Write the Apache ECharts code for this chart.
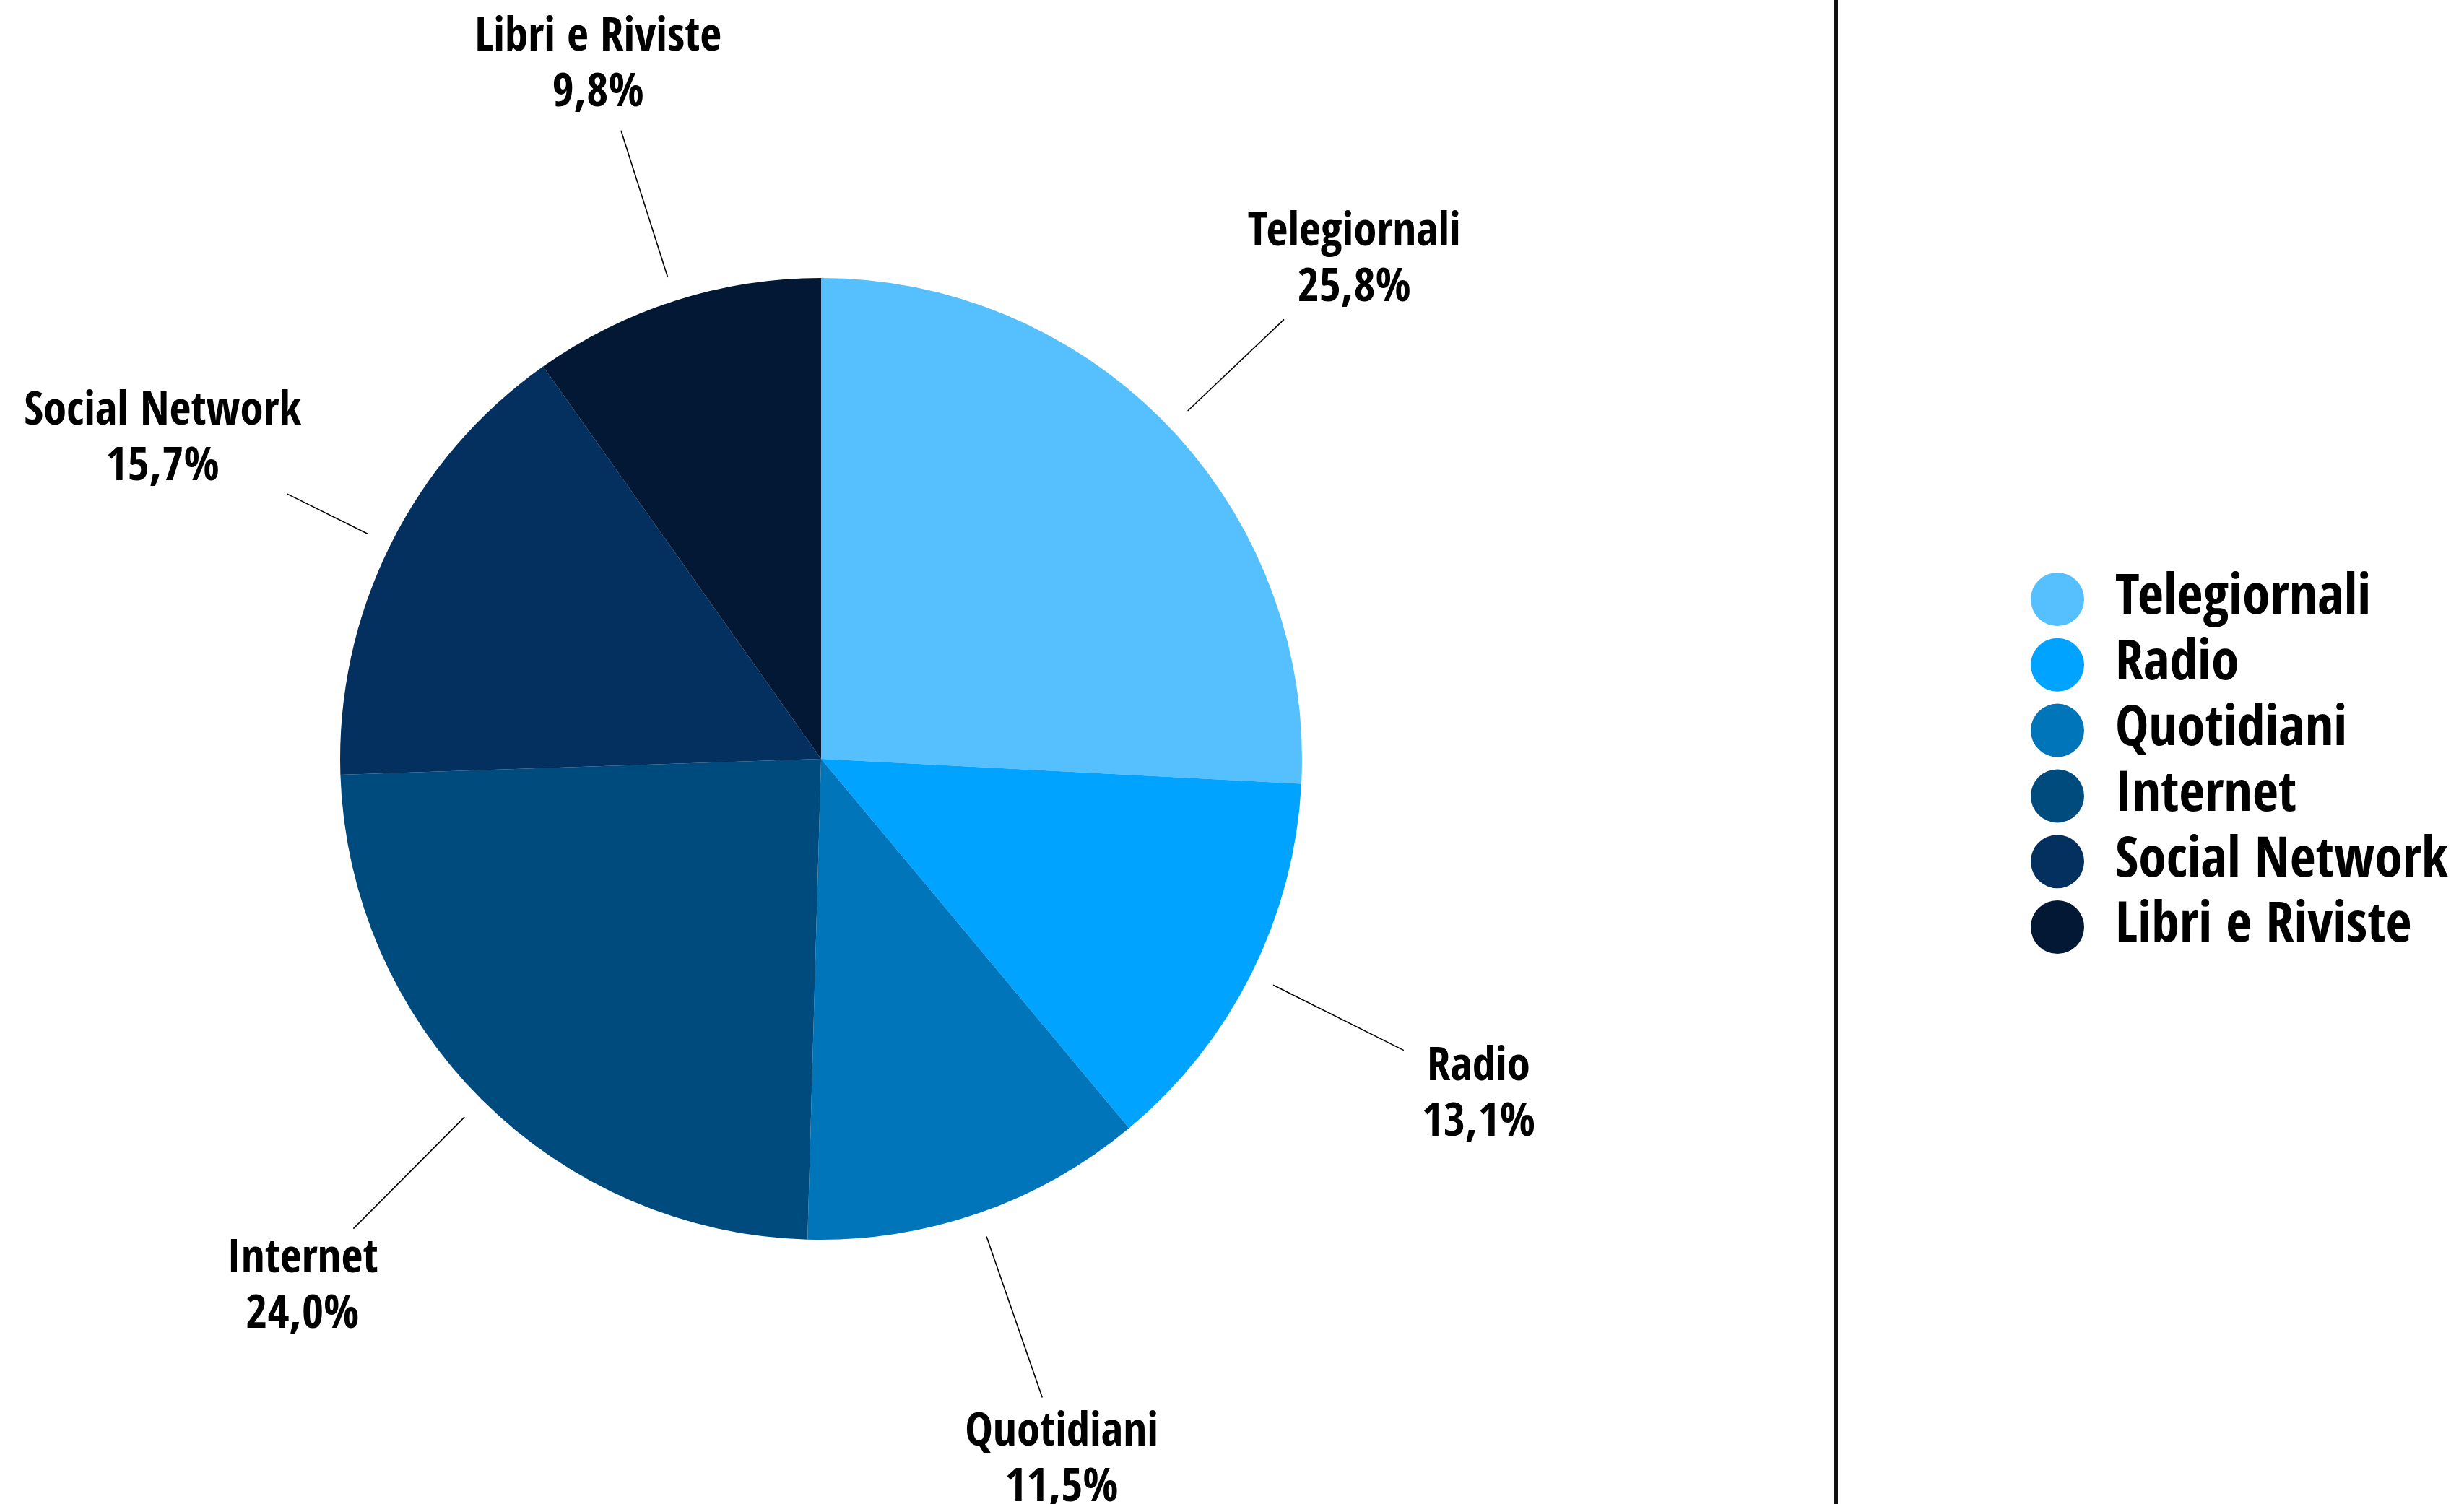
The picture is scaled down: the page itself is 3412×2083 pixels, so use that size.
<!DOCTYPE html>
<html>
<head>
<meta charset="utf-8">
<style>
  html, body { margin: 0; padding: 0; background: #ffffff; }
  #chart { width: 3412px; height: 2083px; }
</style>
<script src="https://cdn.jsdelivr.net/npm/echarts@6/dist/echarts.min.js"></script>
</head>
<body>
<div id="chart"></div>
<script>
// ---- data ----
const categories = ['Telegiornali', 'Radio', 'Quotidiani', 'Internet', 'Social Network', 'Libri e Riviste'];
const values = [25.8, 13.1, 11.5, 24.0, 15.7, 9.8];
const colors = ['#56BFFE', '#00A3FF', '#0075BA', '#004B7D', '#03305E', '#021834'];

// ---- layout / style ----
const CX = 1137, CY = 1051, R = 666;
const LINE_R = 700, LABEL_R = 1015, GAP = 25, LABEL_DY = 11;
const LABEL_LH = 77;

const ctx = document.createElement('canvas').getContext('2d');

// pick the installed font whose proportions are closest to a condensed bold grotesque
const candidates = ['Liberation Sans Narrow', 'Roboto Condensed', 'Noto Sans Condensed',
  'Noto Sans SemiCondensed', 'Noto Sans ExtraCondensed', 'Open Sans Condensed',
  'Open Sans SemiCondensed', 'DejaVu Sans Condensed', 'Liberation Sans', 'Roboto', 'Noto Sans'];
function available(fam) {
  const s = 'Telegiornali Wmli 0123';
  let ok = false;
  ['monospace', 'serif'].forEach(fb => {
    ctx.font = 'bold 100px ' + fb;
    const a = ctx.measureText(s).width;
    ctx.font = 'bold 100px "' + fam + '", ' + fb;
    const b = ctx.measureText(s).width;
    if (Math.abs(a - b) > 0.5) ok = true;
  });
  return ok;
}
const TARGET_W = 290, TARGET_CAP = 47;
let best = null;
candidates.forEach(fam => {
  if (!available(fam)) return;
  ctx.font = 'bold 100px "' + fam + '"';
  const w = ctx.measureText('Telegiornali').width;
  const cap = ctx.measureText('T').actualBoundingBoxAscent || 72;
  const score = Math.abs(Math.log((w / cap) / (TARGET_W / TARGET_CAP)));
  if (!best || score < best.score - 0.02) best = { fam, w, cap, score };
});
if (!best) best = { fam: 'sans-serif', w: 560, cap: 72 };
const FONT = '"' + best.fam + '", sans-serif';
const LABEL_SIZE = Math.round(100 * Math.sqrt((TARGET_W / best.w) * (TARGET_CAP / best.cap)));
const LEGEND_SIZE = Math.round(LABEL_SIZE * 1.2);
const LEGEND_ROW = Math.max(74, LEGEND_SIZE);

function fmtVal(v) { return v.toFixed(1).replace('.', ',') + '%'; }

// leader line lengths: each radial line stops a fixed gap before its label box
ctx.font = 'bold ' + LABEL_SIZE + 'px ' + FONT;
const total = values.reduce((a, b) => a + b, 0);
let cum = 0;
const lineLens = values.map((v, i) => {
  const mid = (cum + v / 2) / total * Math.PI * 2;
  cum += v;
  const dx = Math.sin(mid), dy = -Math.cos(mid);
  const hw = Math.max(ctx.measureText(categories[i]).width, ctx.measureText(fmtVal(v)).width) / 2;
  const hh = (LABEL_LH + TARGET_CAP) / 2;
  const lx = LABEL_R * dx, ly = LABEL_R * dy + LABEL_DY;
  let tmin = 0, tmax = Infinity;
  [[dx, lx, hw], [dy, ly, hh]].forEach(([d, c, h]) => {
    if (Math.abs(d) < 1e-9) return;
    const t1 = (c - h) / d, t2 = (c + h) / d;
    tmin = Math.max(tmin, Math.min(t1, t2));
    tmax = Math.min(tmax, Math.max(t1, t2));
  });
  return Math.max(10, tmin - GAP - LINE_R);
});

const chart = echarts.init(document.getElementById('chart'), null, { renderer: 'canvas' });

chart.setOption({
  animation: false,
  backgroundColor: '#ffffff',
  color: colors,
  legend: {
    orient: 'vertical',
    left: 2807,
    top: 825 - LEGEND_ROW / 2,
    icon: 'circle',
    itemWidth: 150,
    itemHeight: 74,
    itemGap: 90.8 - LEGEND_ROW,
    data: categories,
    selectedMode: false,
    textStyle: {
      fontFamily: FONT,
      fontWeight: 'bold',
      fontSize: LEGEND_SIZE,
      color: '#000000'
    }
  },
  graphic: [{
    type: 'rect',
    shape: { x: 2540, y: 0, width: 5, height: 2083 },
    style: { fill: '#111111' },
    silent: true
  }],
  series: [
    {
      name: 'Fonti',
      type: 'pie',
      center: [CX, CY],
      radius: R,
      startAngle: 90,
      clockwise: true,
      avoidLabelOverlap: false,
      label: { show: false },
      labelLine: { show: false },
      emphasis: { disabled: true },
      data: categories.map((n, i) => ({ name: n, value: values[i] }))
    },
    {
      name: 'lines',
      type: 'pie',
      center: [CX, CY],
      radius: LINE_R,
      startAngle: 90,
      clockwise: true,
      silent: true,
      avoidLabelOverlap: false,
      labelLayout: { hideOverlap: false, moveOverlap: null },
      itemStyle: { color: 'rgba(0,0,0,0)' },
      emphasis: { disabled: true },
      label: {
        show: true,
        position: 'outside',
        formatter: '.',
        fontSize: 2,
        distanceToLabelLine: 0,
        color: 'rgba(0,0,0,0)'
      },
      labelLine: {
        show: true,
        length2: 0,
        smooth: false,
        lineStyle: { color: '#000000', width: 1.6 }
      },
      data: categories.map((n, i) => ({ name: n, value: values[i], labelLine: { length: lineLens[i] } }))
    },
    {
      name: 'labels',
      type: 'pie',
      center: [CX, CY],
      radius: [LABEL_R - 10, LABEL_R + 10],
      startAngle: 90,
      clockwise: true,
      silent: true,
      avoidLabelOverlap: false,
      labelLayout: function () { return { dy: LABEL_DY, hideOverlap: false }; },
      itemStyle: { color: 'rgba(0,0,0,0)' },
      emphasis: { disabled: true },
      label: {
        show: true,
        position: 'inside',
        rotate: 0,
        overflow: 'none',
        formatter: p => p.name + '\n' + fmtVal(p.value),
        fontFamily: FONT,
        fontWeight: 'bold',
        fontSize: LABEL_SIZE,
        lineHeight: LABEL_LH,
        color: '#000000',
        align: 'center',
        verticalAlign: 'middle'
      },
      labelLine: { show: false },
      data: categories.map((n, i) => ({ name: n, value: values[i] }))
    }
  ]
});
</script>
</body>
</html>
